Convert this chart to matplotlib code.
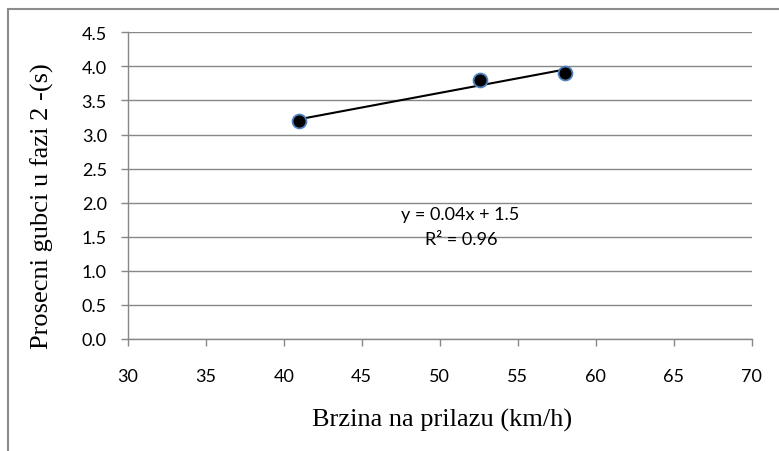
import matplotlib
matplotlib.use("Agg")
import matplotlib.pyplot as plt
import numpy as np
from matplotlib.lines import Line2D

# approach speed (km/h) vs. average losses in phase 2 (s)
speed = [41.0, 52.6, 58.0]
losses = [3.2, 3.8, 3.9]
x_ticks = [30, 35, 40, 45, 50, 55, 60, 65, 70]
y_ticks = [0.0, 0.5, 1.0, 1.5, 2.0, 2.5, 3.0, 3.5, 4.0, 4.5]
eq_text = "y = 0.04x + 1.5"
r2_text = "R² = 0.96"

W, H = 779, 452
fig = plt.figure(figsize=(W / 100, H / 100), dpi=100)
ax = fig.add_axes([127.7 / W, 1 - 340 / H, (751.7 - 127.7) / W, (340 - 33.3) / H])

sans = ["Lato", "DejaVu Sans"]
serif = ["Liberation Serif", "DejaVu Serif"]
grid_c = "#878787"

ax.set_xlim(30, 70)
ax.set_ylim(0, 4.5)
ax.set_xticks(x_ticks)
ax.set_yticks(y_ticks)
ax.set_yticklabels([f"{v:.1f}" for v in y_ticks])
ax.grid(axis="y", color=grid_c, linewidth=1.0)
ax.set_axisbelow(True)
for side in ("top", "right"):
    ax.spines[side].set_visible(False)
for side in ("left", "bottom"):
    ax.spines[side].set_color(grid_c)
    ax.spines[side].set_linewidth(1.0)
ax.tick_params(direction="out", length=5, color=grid_c, width=1.0, labelsize=13)
ax.tick_params(axis="x", pad=16)
ax.tick_params(axis="y", pad=10)
for lab in ax.get_xticklabels() + ax.get_yticklabels():
    lab.set_family(sans)

# linear trend through the points
coef = np.polyfit(speed, losses, 1)
xs = np.array([min(speed), max(speed)])
ax.plot(xs, np.polyval(coef, xs), color="black", linewidth=1.5, zorder=3)
ax.plot(speed, losses, "o", markersize=10, markerfacecolor="black",
        markeredgecolor="#4f81bd", markeredgewidth=1.3, zorder=4,
        clip_on=False)

ax.text(51.3, 1.83, eq_text, ha="center", va="center", fontsize=13, family=sans)
ax.text(51.4, 1.47, r2_text, ha="center", va="center", fontsize=13, family=sans)

fig.text(442 / W, 1 - 420 / H, "Brzina na prilazu (km/h)", ha="center",
         va="center", fontsize=19, family=serif)
fig.text(42 / W, 1 - 206 / H, "Prosecni gubci u fazi 2 -(s)", ha="center",
         va="center", fontsize=19, family=serif, rotation=90)

# chart-area border
fig.add_artist(Line2D([7.5 / W, 7.5 / W], [0, 1 - 10 / H], color="#8c8c8c",
                      linewidth=1.5, transform=fig.transFigure))
fig.add_artist(Line2D([7.5 / W, 1], [1 - 10 / H, 1 - 10 / H], color="#8c8c8c",
                      linewidth=1.5, transform=fig.transFigure))

fig.savefig("out.png", dpi=100)
